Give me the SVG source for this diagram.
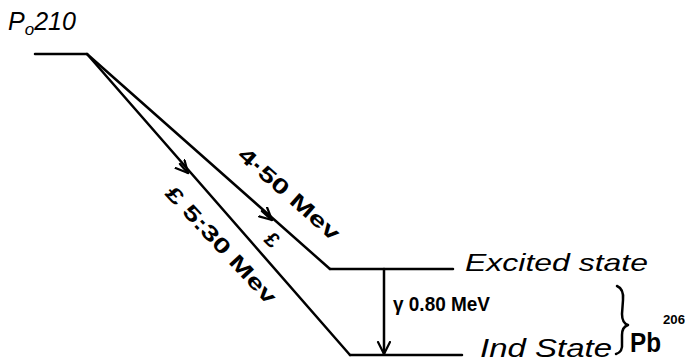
<svg xmlns="http://www.w3.org/2000/svg" width="685" height="364" viewBox="0 0 685 364">
<style>
.ln{fill:none;stroke:#000;stroke-width:2.5;stroke-linejoin:round;stroke-linecap:round}
.t{font-family:"Liberation Sans",Arial,sans-serif;fill:#000}
.it{font-style:italic}
.b{font-weight:bold}
</style>
<defs>
<marker id="ah" markerUnits="userSpaceOnUse" markerWidth="16" markerHeight="16" refX="13" refY="7" orient="auto">
<path d="M1,1 L13,7 L1,13" fill="none" stroke="#000" stroke-width="2.2" stroke-linecap="round" stroke-linejoin="round"/>
</marker>
</defs>
<rect width="685" height="364" fill="#fff"/>
<g id="po210">
<path class="ln" d="M35,54 L87,54"/>
<text class="t it" x="8" y="30" font-size="25">P<tspan font-size="17" dy="5">o</tspan><tspan font-size="25" dy="-5">210</tspan></text>
</g>
<g id="excited">
<path class="ln" d="M330,269 L453,269"/>
<text class="t it" x="465" y="271" font-size="24" textLength="183" lengthAdjust="spacingAndGlyphs">Excited state</text>
</g>
<g id="ground">
<path class="ln" d="M350,355 L462,355"/>
<text class="t it" x="480" y="357" font-size="25" textLength="132" lengthAdjust="spacingAndGlyphs">Ind State</text>
</g>
<g id="pb206">
<path class="ln" stroke-width="2.2" d="M617,286 Q624,289 623,300 L622,314 Q622,323 628,325 Q622,327 622,335 L622,343 Q623,352 616,354"/>
<text class="t b" x="630" y="352" font-size="27" textLength="31" lengthAdjust="spacingAndGlyphs">Pb</text>
<text class="t b" x="663" y="324" font-size="12" textLength="22" lengthAdjust="spacingAndGlyphs">206</text>
</g>
<g id="connectors">
<path class="ln" d="M87,54 L330,269"/>
<path class="ln" d="M87,54 L350,355"/>
<path class="ln" d="M180,164 L188,173" marker-end="url(#ah)"/>
<path class="ln" d="M262,211 L272,220" marker-end="url(#ah)"/>
<path class="ln" d="M384,269 L384,354" marker-end="url(#ah)"/>
<text class="t b" font-size="21" text-anchor="middle" transform="translate(289,194) rotate(41.5)" y="7" textLength="128" lengthAdjust="spacingAndGlyphs">4·50 Mev</text>
<text class="t b" font-size="21" text-anchor="middle" transform="translate(221,245) rotate(47)" y="7" textLength="152" lengthAdjust="spacingAndGlyphs">£ 5:30 Mev</text>
<text class="t b" font-size="21" text-anchor="middle" transform="translate(272,240) rotate(45)" y="7">£</text>
<text class="t b" x="393" y="311" font-size="21" textLength="97" lengthAdjust="spacingAndGlyphs">γ 0.80 MeV</text>
</g>
</svg>
